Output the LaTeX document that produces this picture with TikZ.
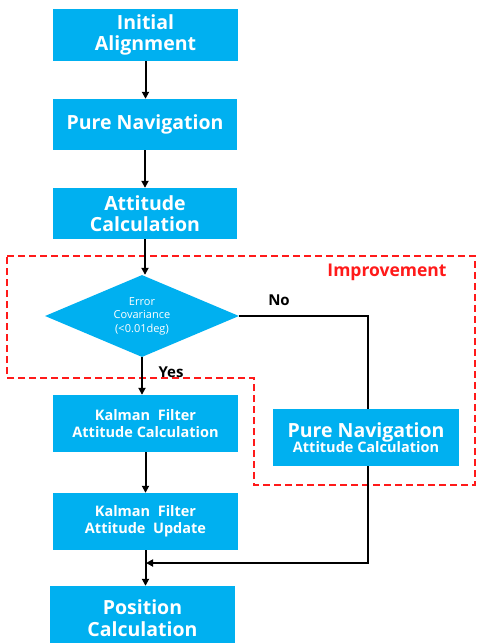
\documentclass[tikz,border=0pt]{standalone}
\usepackage{fontspec}
\setmainfont{Open Sans}
\usetikzlibrary{shapes.geometric,arrows.meta}
\definecolor{boxblue}{HTML}{00B0F0}
\definecolor{impred}{HTML}{FF1A1A}
\begin{document}
\begin{tikzpicture}[x=1pt,y=-1pt,
  stepbox/.style={rectangle,fill=boxblue,text=white,font=\bfseries,align=center,inner sep=0pt},
  bigtxt/.style={font=\fontsize{19.5}{21.5}\selectfont\bfseries},
  smalltxt/.style={font=\fontsize{14.5}{17}\selectfont\bfseries},
  flow/.style={draw=black,line width=2pt,-{Triangle[length=7pt,width=7pt]}},
  plainline/.style={draw=black,line width=2pt},
  lbl/.style={font=\fontsize{15}{17}\selectfont\bfseries,inner sep=0pt}
]
\useasboundingbox (0,0) rectangle (477,643);
\fill[white] (0,0) rectangle (477,643);
\begin{scope}
\clip (0,0) rectangle (477,643);
% improvement region
\draw[impred,line width=1.7pt,dash pattern=on 7pt off 4pt]
  (7,256) -- (475,256) -- (475,485) -- (254,485) -- (254,378) -- (7,378) -- cycle;
\node[text=impred,font=\fontsize{17.5}{19}\selectfont\bfseries,inner sep=0pt] (imp) at (387,272) {Improvement};

\node[stepbox,bigtxt,minimum width=185pt,minimum height=52pt] (init) at (145.5,35) {Initial\\Alignment};
\node[stepbox,bigtxt,minimum width=184pt,minimum height=51pt] (pnav) at (145,124.5) {Pure Navigation};
\node[stepbox,bigtxt,minimum width=184pt,minimum height=51pt] (att) at (145,213.5) {Attitude\\Calculation};
\node[diamond,fill=boxblue,text=white,align=center,inner sep=0pt,aspect=2.37,
  minimum width=194pt,minimum height=82pt,font=\fontsize{11}{13.5}\selectfont] (dec) at (142,316) {Error\\Covariance\\(<0.01deg)};
\node[stepbox,smalltxt,minimum width=185pt,minimum height=57pt] (kcalc) at (145.5,423.5) {Kalman\ \ Filter\\Attitude Calculation};
\node[stepbox,smalltxt,minimum width=185pt,minimum height=57pt] (kupd) at (145.5,521.5) {Kalman\ \ Filter\\Attitude\ \ Update};
\node[stepbox,bigtxt,minimum width=185pt,minimum height=64pt] (pos) at (142.5,618) {Position\\Calculation};
\node[stepbox,minimum width=186pt,minimum height=57pt,align=center] (pnav2) at (366,437.5)
  {{\fontsize{19.5}{20}\selectfont\bfseries Pure Navigation}\\[-2pt]{\fontsize{14.5}{16}\selectfont\bfseries Attitude Calculation}};

\path[flow] (init.south) -- (init.south |- pnav.north);
\path[flow] (pnav.south) -- (pnav.south |- att.north);
\path[flow] (att.south) -- (att.south |- dec.north);
\path[flow] (dec.south) -- (dec.south |- kcalc.north);
\path[flow] (kcalc.south) -- (kupd.north);
\path[flow] (kupd.south) -- (kupd.south |- pos.north);
\coordinate (turn) at (368,316);
\coordinate (merge) at (146,563);
\coordinate (rdown) at (368,563);
\path[plainline] (dec.east) -- (turn) -- (turn |- pnav2.north);
\path[flow] (turn |- pnav2.south) -- (rdown) -- (merge);

\node[lbl] (no) at (279,300) {No};
\node[lbl] (yes) at (171,372) {Yes};
\end{scope}
\end{tikzpicture}
\end{document}
